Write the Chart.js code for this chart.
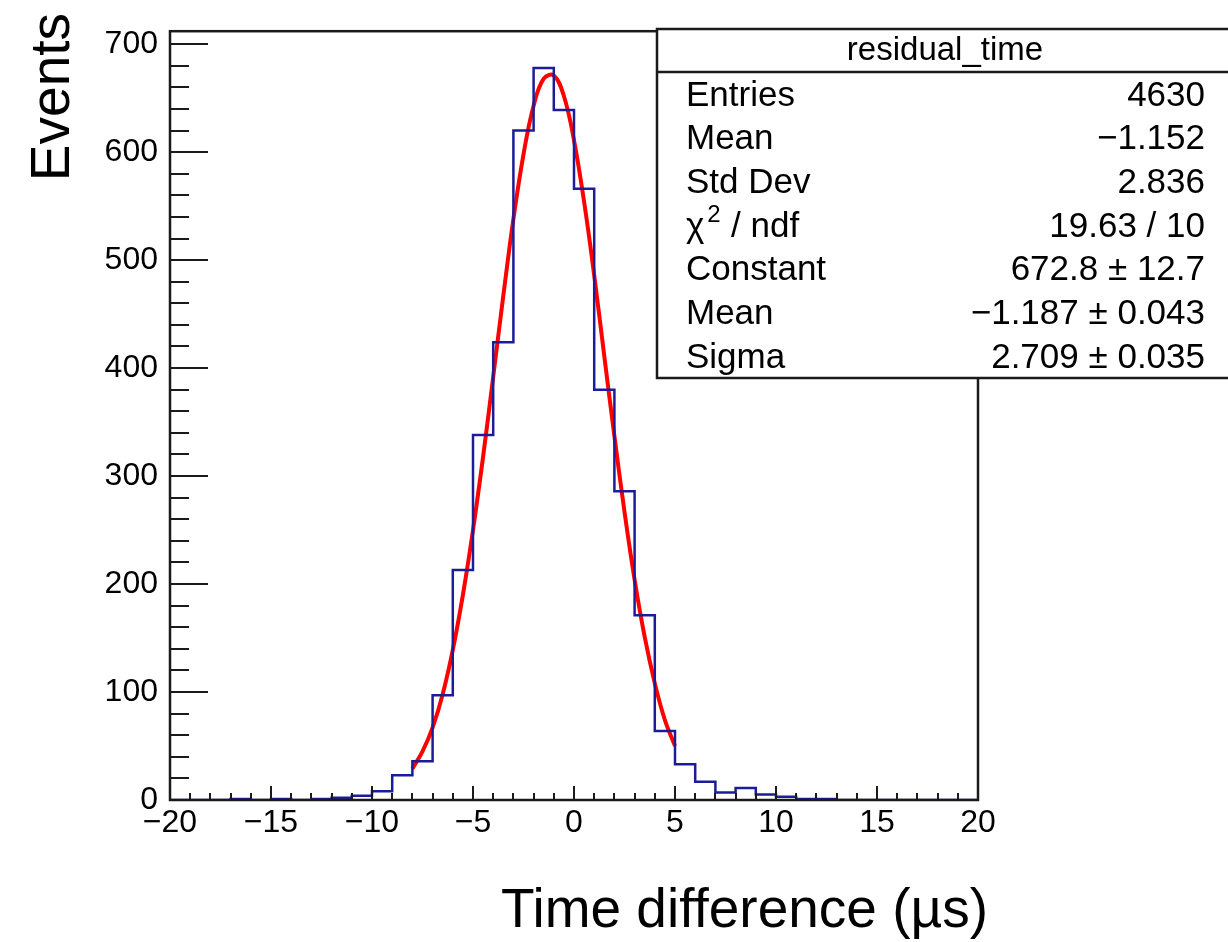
<!DOCTYPE html>
<html>
<head>
<meta charset="utf-8">
<script src="https://cdn.jsdelivr.net/npm/chart.js@4/dist/chart.umd.min.js"></script>
<style>
  html, body { margin: 0; padding: 0; background: #fff; }
  #wrap { width: 1228px; height: 942px; }
</style>
</head>
<body>
<div id="wrap"><canvas id="residual_chart"></canvas></div>
<script>
// histogram bins (lower edge, width 1 us)
const binLow = [-20, -19, -18, -17, -16, -15, -14, -13, -12, -11,
                -10, -9, -8, -7, -6, -5, -4, -3, -2, -1,
                0, 1, 2, 3, 4, 5, 6, 7, 8, 9,
                10, 11, 12, 13, 14, 15, 16, 17, 18, 19];
const counts = [0, 0, 0, 1, 0, 1, 0, 1, 2, 4,
                8, 23, 36, 97, 213, 338, 424, 620, 678, 639,
                566, 380, 286, 171, 64, 33, 17, 7, 11, 5,
                3, 1, 1, 0, 0, 0, 0, 0, 0, 0];

// gaussian fit curve
const fitX = [-8, -7.5, -7, -6.5, -6, -5.5, -5, -4.5, -4, -3.5, -3, -2.5, -2, -1.5,
              -1, -0.5, 0, 0.5, 1, 1.5, 2, 2.5, 3, 3.5, 4, 4.5, 5];
const fitY = [29, 45, 67, 98, 139, 190, 250, 318, 392, 467, 538, 598, 643, 668,
              671, 652, 611, 554, 486, 411, 337, 267, 204, 151, 108, 74, 50];

const xTicks = [-20, -15, -10, -5, 0, 5, 10, 15, 20];
const yTicks = [0, 100, 200, 300, 400, 500, 600, 700];

const statTitle = "residual_time";
const statNames = ["Entries", "Mean", "Std Dev", "chi2", "Constant", "Mean", "Sigma"];
const statValues = ["4630", "\u22121.152", "2.836", "19.63 / 10", "672.8 \u00b1 12.7",
                    "\u22121.187 \u00b1 0.043", "2.709 \u00b1 0.035"];

const FONT = '"Liberation Sans", Arial, Helvetica, sans-serif';

// histogram outline points: each bin value held from its lower edge
const histPoints = binLow.map((x, i) => ({ x: x, y: counts[i] }));
histPoints.push({ x: 20, y: counts[counts.length - 1] });
const fitPoints = fitX.map((x, i) => ({ x: x, y: fitY[i] }));

const rootStyle = {
    id: 'rootStyle',
    afterDraw(chart) {
        const ctx = chart.ctx;
        const a = chart.chartArea;
        const xs = chart.scales.x, ys = chart.scales.y;
        ctx.save();
        ctx.strokeStyle = '#1a1a1a';
        ctx.lineWidth = 2.5;

        // frame
        ctx.strokeRect(a.left, a.top, a.right - a.left, a.bottom - a.top);

        // inward tick marks
        ctx.lineWidth = 2;
        ctx.beginPath();
        for (let v = -20; v <= 20; v++) {
            const px = Math.round(xs.getPixelForValue(v));
            const len = (v % 5 === 0) ? 14 : 7;
            ctx.moveTo(px, a.bottom);
            ctx.lineTo(px, a.bottom - len);
        }
        for (let v = 0; v <= ys.max; v += 20) {
            const py = Math.round(ys.getPixelForValue(v));
            const len = (v % 100 === 0) ? 38 : 19;
            ctx.moveTo(a.left, py);
            ctx.lineTo(a.left + len, py);
        }
        ctx.stroke();

        // stats box
        const bx = 657, by = 29, bw = 600, bh = 349;
        ctx.lineWidth = 2.5;
        ctx.fillStyle = '#fff';
        ctx.fillRect(bx, by, bw, bh);
        ctx.strokeRect(bx, by, bw, bh);
        ctx.beginPath();
        ctx.moveTo(bx, 72);
        ctx.lineTo(bx + bw, 72);
        ctx.stroke();

        ctx.fillStyle = '#000';
        ctx.textBaseline = 'middle';
        ctx.font = '33px ' + FONT;
        ctx.textAlign = 'center';
        ctx.fillText(statTitle, 945, 51);

        ctx.font = '35px ' + FONT;
        const rowH = (by + bh - 72) / statNames.length;
        statNames.forEach((name, i) => {
            const cy = 72 + rowH * (i + 0.5) + 2;
            ctx.textAlign = 'left';
            if (name === 'chi2') {
                ctx.fillText('\u03c7', 686, cy);
                const w = ctx.measureText('\u03c7').width;
                ctx.font = '24px ' + FONT;
                ctx.fillText('2', 686 + w + 3, cy - 12);
                ctx.font = '35px ' + FONT;
                ctx.fillText(' / ndf', 686 + w + 17, cy);
            } else {
                ctx.fillText(name, 686, cy);
            }
            ctx.textAlign = 'right';
            ctx.fillText(statValues[i], 1205, cy);
        });

        // axis titles
        ctx.font = '55px ' + FONT;
        ctx.textAlign = 'right';
        ctx.textBaseline = 'alphabetic';
        ctx.fillText('Time difference (\u00b5s)', 988, 927);

        ctx.translate(69, 13);
        ctx.rotate(-Math.PI / 2);
        ctx.fillText('Events', 0, 0);
        ctx.restore();
    }
};

const ctx1 = document.getElementById('residual_chart').getContext('2d');
const residualChart = new Chart(ctx1, {
    type: 'line',
    data: {
        datasets: [{
            label: 'residual_time',
            data: histPoints,
            stepped: 'before',
            borderColor: '#1c1c98',
            borderWidth: 2.5,
            pointRadius: 0,
            fill: false
        }, {
            label: 'gaus fit',
            data: fitPoints,
            borderColor: '#ff0000',
            borderWidth: 4,
            pointRadius: 0,
            tension: 0.4,
            fill: false
        }]
    },
    options: {
        responsive: true,
        maintainAspectRatio: false,
        animation: false,
        layout: { padding: { top: 25, right: 250, left: 0, bottom: 0 } },
        plugins: {
            legend: { display: false },
            tooltip: { enabled: false }
        },
        scales: {
            x: {
                type: 'linear',
                min: -20,
                max: 20,
                grid: { display: false, drawTicks: false },
                border: { display: false },
                afterBuildTicks: s => { s.ticks = xTicks.map(v => ({ value: v })); },
                afterFit: s => { s.height = 142; },
                ticks: {
                    padding: 4,
                    color: '#000',
                    font: { family: FONT, size: 32 },
                    maxRotation: 0,
                    callback: v => String(v).replace('-', '\u2212')
                }
            },
            y: {
                min: 0,
                max: 712,
                grid: { display: false, drawTicks: false },
                border: { display: false },
                afterBuildTicks: s => { s.ticks = yTicks.map(v => ({ value: v })); },
                afterFit: s => { s.width = 170; },
                ticks: {
                    padding: 12,
                    color: '#000',
                    font: { family: FONT, size: 32 }
                }
            }
        }
    },
    plugins: [rootStyle]
});
</script>
</body>
</html>
